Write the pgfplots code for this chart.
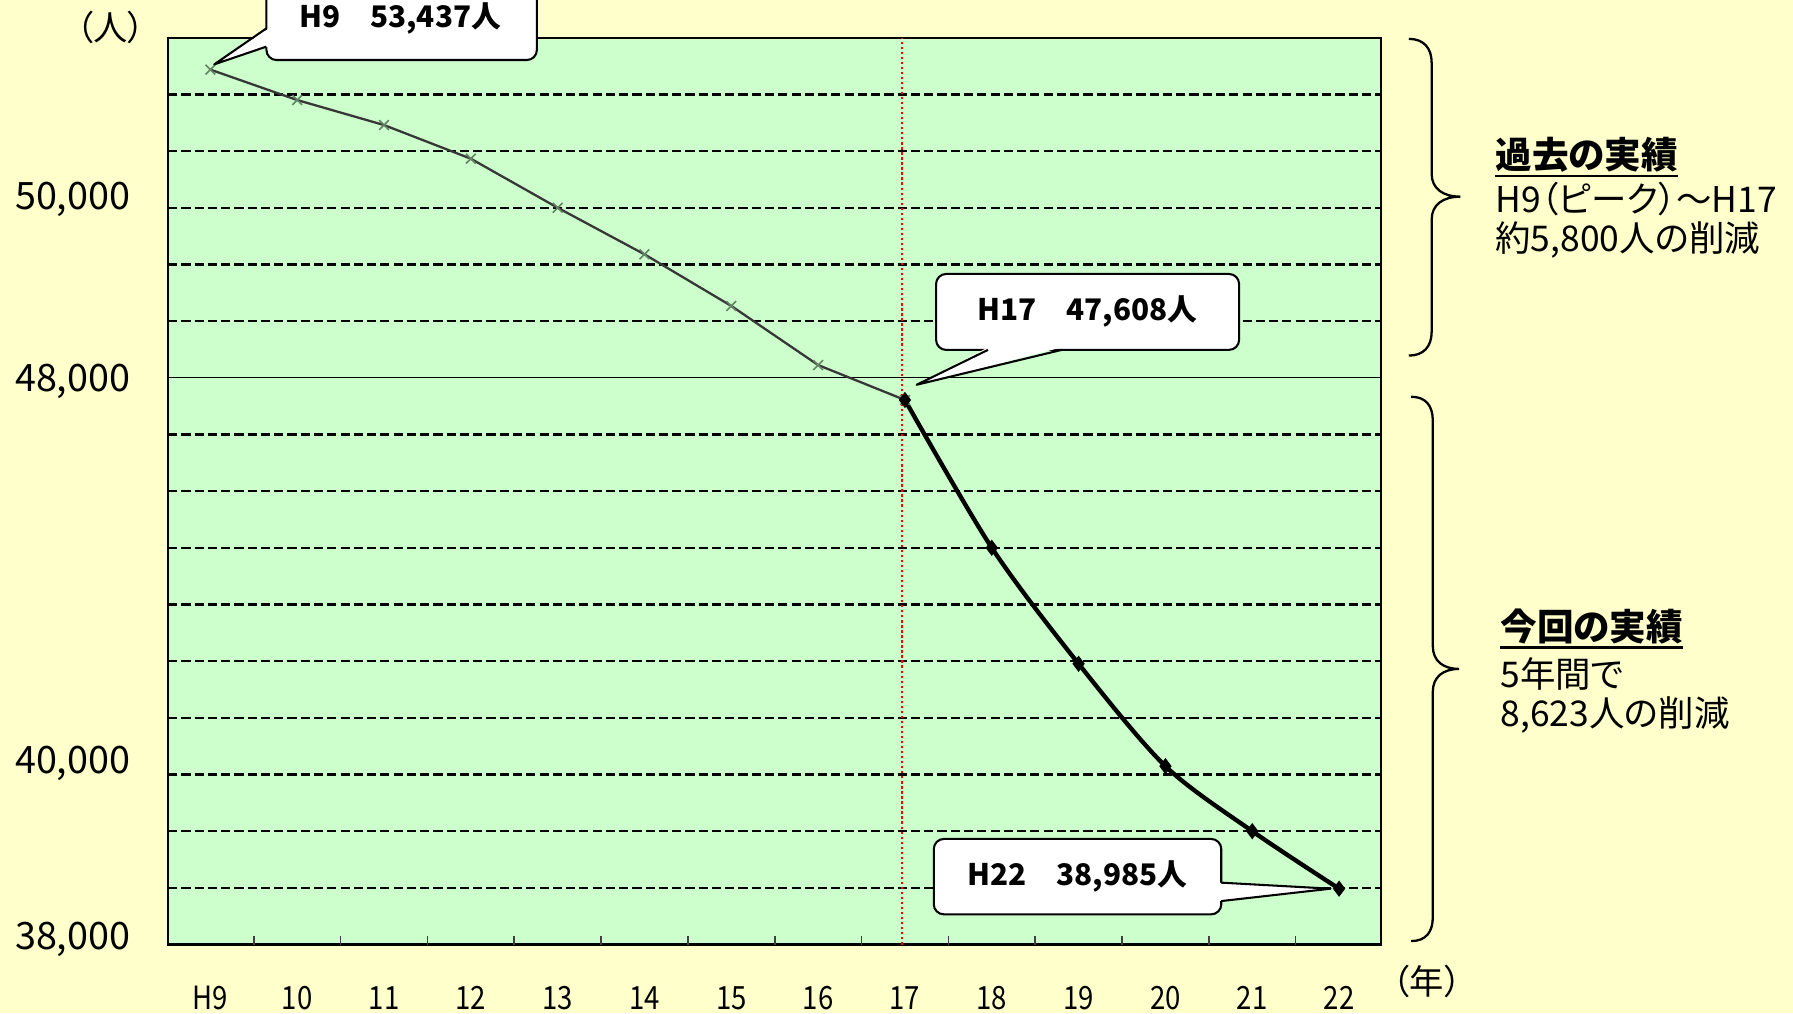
\documentclass[border=0pt]{standalone}
\usepackage{pgfplots}
\pgfplotsset{compat=1.18}
\usepackage{fontspec}
\setmainfont{Noto Sans CJK JP}
\newfontfamily\jpp{Noto Sans CJK JP}[RawFeature=+palt]
\newfontfamily\tickfont{Noto Sans CJK JP}[FakeStretch=0.86]
\definecolor{pagebg}{RGB}{255,255,204}
\definecolor{plotbg}{RGB}{204,255,204}
\definecolor{pastline}{RGB}{55,55,55}
\definecolor{pastmark}{RGB}{100,130,100}

\begin{document}
\begin{tikzpicture}
\useasboundingbox (0,0) rectangle (784pt,443pt);
\clip (0,0) rectangle (784pt,443pt);
\fill[pagebg] (0,0) rectangle (784pt,443pt);

\begin{axis}[
  scale only axis, width=530.5pt, height=396.5pt,
  at={(73.5pt,30pt)}, anchor=south west,
  xmin=-0.487, xmax=13.487, ymin=38000, ymax=54000,
  scaled ticks=false,
  axis background/.style={fill=plotbg},
  axis line style={black, line width=1pt},
  major tick length=0pt,
  xtick={0,...,13},
  xticklabels={H9,10,11,12,13,14,15,16,17,18,19,20,21,22},
  ytick={38149,41257,48000,51214},
  yticklabels={{38,000},{40,000},{48,000},{50,000}},
  xticklabel style={font=\tickfont\fontsize{14pt}{16pt}\selectfont, anchor=base, yshift=-28.5pt},
  yticklabel style={font=\fontsize{16.5pt}{18pt}\selectfont, anchor=east, xshift=-13pt, yshift=-1.6pt},
]
% dashed grid every 1,000 persons
\pgfplotsinvokeforeach{39000,40000,41000,42000,43000,44000,45000,46000,47000,49000,50000,51000,52000,53000}{
  \draw[black, line width=1pt, dash pattern=on 4pt off 1.8pt] (axis cs:-0.487,#1) -- (axis cs:13.487,#1);
}
\draw[black, line width=0.55pt] (axis cs:-0.487,48000) -- (axis cs:13.487,48000);
% small inward ticks between the years
\pgfplotsinvokeforeach{0.5,1.5,2.5,3.5,4.5,5.5,6.5,7.5,8.5,9.5,10.5,11.5,12.5}{
  \draw[line width=0.7pt, black!75] (axis cs:#1,38000) -- ++(0pt,3.9pt);
}
% H17 divider
\draw[red, line width=1pt, dash pattern=on 1pt off 1.2pt] (axis cs:7.97,38000) -- (axis cs:7.97,54000);

% H9 - H17
\addplot[pastline, line width=1pt, mark=x, mark size=3pt,
  mark options={pastmark, line width=0.7pt}] coordinates {
  (0,53437) (1,52900) (2,52459) (3,51865) (4,51000)
  (5,50178) (6,49267) (7,48224) (8,47608)};
% H17 - H22
\addplot[black, line width=1.9pt, smooth, mark=diamond*, mark size=2pt,
  mark options={black}] coordinates {
  (8,47608) (9,45000) (10,42953) (11,41147) (12,40000) (13,38985)};

\coordinate (p9) at (axis cs:0,53437);
\coordinate (p17) at (axis cs:8,47608);
\coordinate (p22) at (axis cs:13,38985);
\end{axis}

% callout H9
\draw[line width=0.9pt, fill=white, rounded corners=4.4pt] (116.5pt,416.75pt) rectangle (234.75pt,460pt);
\fill[white] (117.6pt,430.6pt) -- ([shift={(1.7pt,2.3pt)}]p9) -- (117.6pt,422.6pt) -- cycle;
\draw[line width=0.9pt, line join=round] (116.5pt,430.6pt) -- ([shift={(1.7pt,2.3pt)}]p9) -- (116.5pt,422.6pt);
\node[font=\bfseries\fontsize{13pt}{15pt}\selectfont] at (175pt,435pt) {H9　53,437人};

% callout H17
\draw[line width=0.9pt, fill=white, rounded corners=4.4pt] (409.3pt,290pt) rectangle (541.8pt,323.2pt);
\fill[white] (432pt,291.1pt) -- ([shift={(5.1pt,6.65pt)}]p17) -- (464.25pt,291.1pt) -- cycle;
\draw[line width=0.9pt, line join=round] (432pt,290pt) -- ([shift={(5.1pt,6.65pt)}]p17) -- (464.25pt,290pt);
\node[font=\bfseries\fontsize{13pt}{15pt}\selectfont] at (475.5pt,306.6pt) {H17　47,608人};

% callout H22
\draw[line width=0.9pt, fill=white, rounded corners=4.4pt] (408.3pt,43.2pt) rectangle (534pt,76.15pt);
\fill[white] (532.9pt,57.05pt) -- ([shift={(-3.7pt,0pt)}]p22) -- (532.9pt,49pt) -- cycle;
\draw[line width=0.9pt, line join=round] (534pt,57.05pt) -- ([shift={(-3.7pt,0pt)}]p22) -- (534pt,49pt);
\node[font=\bfseries\fontsize{13pt}{15pt}\selectfont] at (471.2pt,59.7pt) {H22　38,985人};

% braces
\draw[line width=1pt] (616pt,426pt) .. controls (622.5pt,426pt) and (626pt,422pt) .. (626pt,415.5pt)
  -- (626pt,367pt) .. controls (626pt,360.5pt) and (631pt,357pt) .. (638.5pt,357pt)
  .. controls (631pt,357pt) and (626pt,353.5pt) .. (626pt,347pt)
  -- (626pt,298pt) .. controls (626pt,291.5pt) and (622.5pt,287.5pt) .. (616pt,287.5pt);
\draw[line width=1pt] (617pt,269.5pt) .. controls (623.5pt,269.5pt) and (626.5pt,265.5pt) .. (626.5pt,259pt)
  -- (626.5pt,160.5pt) .. controls (626.5pt,154pt) and (631pt,150.5pt) .. (638pt,150.5pt)
  .. controls (631pt,150.5pt) and (626.5pt,147pt) .. (626.5pt,140.5pt)
  -- (626.5pt,42pt) .. controls (626.5pt,35.5pt) and (623.5pt,31.5pt) .. (617pt,31.5pt);

% notes
\node[anchor=west, inner sep=0pt, font=\jpp\bfseries\fontsize{16pt}{18pt}\selectfont] (t1) at (653.7pt,375.25pt) {過去の実績};
\draw[line width=1pt] ([yshift=-1.2pt]t1.south west) -- ([yshift=-1.2pt]t1.south east);
\node[anchor=west, inner sep=0pt, font=\jpp\fontsize{15.5pt}{17pt}\selectfont] at (653.7pt,355.85pt) {H9（ピーク）～H17};
\node[anchor=west, inner sep=0pt, font=\jpp\fontsize{15.5pt}{17pt}\selectfont] at (653.7pt,338pt) {約5,800人の削減};

\node[anchor=west, inner sep=0pt, font=\jpp\bfseries\fontsize{16pt}{18pt}\selectfont] (t2) at (655.9pt,169pt) {今回の実績};
\draw[line width=1pt] ([yshift=-1.2pt]t2.south west) -- ([yshift=-1.2pt]t2.south east);
\node[anchor=west, inner sep=0pt, font=\jpp\fontsize{15.5pt}{17pt}\selectfont] at (655.9pt,148.25pt) {5年間で};
\node[anchor=west, inner sep=0pt, font=\jpp\fontsize{15.5pt}{17pt}\selectfont] at (655.9pt,130.5pt) {8,623人の削減};

\node[font=\jpp\fontsize{15pt}{17pt}\selectfont] at (48.5pt,431pt) {（人）};
\node[font=\jpp\fontsize{15pt}{17pt}\selectfont] at (624pt,14pt) {（年）};
\end{tikzpicture}
\end{document}
